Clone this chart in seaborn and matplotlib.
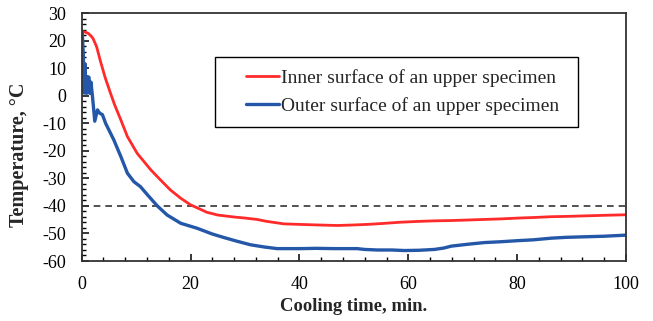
import numpy as np
import pandas as pd
import matplotlib
matplotlib.use("Agg")
import matplotlib.pyplot as plt
import seaborn as sns
from matplotlib.patches import Rectangle
from matplotlib.ticker import MultipleLocator

# ---- data ----
inner_t = [0, 0.6, 1.2, 1.7, 2.1, 2.75, 3.4, 4.3, 5.2, 6.0, 7.2, 8.4, 10.2, 12.7, 14.5,
           16.3, 18.2, 20, 21.8, 23, 25, 27.9, 30, 32.2, 34, 37.1, 40, 43.3, 47, 50,
           52.5, 55, 58.6, 62, 65, 67.9, 71, 74, 77, 80.2, 83, 86.3, 89, 92.5, 96, 100]
inner_T = [23.3, 23.2, 22.7, 21.8, 20.8, 17.8, 12.9, 6.7, 1.5, -3.0, -8.8, -14.8, -20.9,
           -26.9, -30.6, -34.2, -37.2, -39.6, -41.2, -42.3, -43.3, -44, -44.4, -44.9,
           -45.6, -46.5, -46.7, -46.9, -47.1, -46.9, -46.7, -46.4, -45.9, -45.6, -45.4,
           -45.3, -45.1, -44.9, -44.7, -44.4, -44.2, -43.9, -43.8, -43.6, -43.4, -43.2]

outer_t = [0, 0.1, 0.3, 0.45, 0.6, 0.75, 0.9, 1.1, 1.35, 1.5, 1.7, 2.0, 2.4, 2.9, 3.3,
           3.8, 4.4, 5.9, 7.2, 8.4, 9.6, 10.8, 12.1, 13.9, 15.7, 18.2, 21.2, 24, 26,
           28.5, 31, 33.5, 35.9, 40.2, 43, 46.3, 50.6, 52, 54.3, 57, 59.3, 62, 64.8,
           66.5, 67.9, 71, 74, 77, 80.2, 83, 86.3, 89, 92.5, 96, 100]
outer_T = [23.3, 23.3, 14.9, 1.0, 11.6, 4.0, 0.9, 7.0, 6.7, 0.9, 5.0, -0.6, -9.2, -5.1,
           -6.3, -6.8, -10.0, -16.0, -22.1, -28.1, -31.2, -33.0, -36.0, -40.0, -43.3,
           -46.3, -48.1, -50.2, -51.4, -52.8, -54.1, -54.9, -55.5, -55.5, -55.4, -55.5,
           -55.5, -55.8, -56.0, -56.0, -56.2, -56.1, -55.8, -55.3, -54.6, -53.9, -53.3,
           -53.0, -52.6, -52.3, -51.7, -51.4, -51.2, -51.0, -50.6]

labels = ["Inner surface of an upper specimen", "Outer surface of an upper specimen"]
threshold = -40
x_ticks = [0, 20, 40, 60, 80, 100]
y_ticks = [-60, -50, -40, -30, -20, -10, 0, 10, 20, 30]

# ---- plotting ----
sns.set_style("ticks")
plt.rcParams['font.family'] = ['Liberation Serif', 'DejaVu Serif']
plt.rcParams['axes.unicode_minus'] = False

W, H = 653, 321
L, R, T, B = 81.7, 626.0, 13.3, 261.0
fig = plt.figure(figsize=(W/100, H/100), dpi=100)
ax = fig.add_axes([L/W, 1-B/H, (R-L)/W, (B-T)/H])
aw, ah = R-L, B-T

df_in = pd.DataFrame({"t": inner_t, "T": inner_T})
df_out = pd.DataFrame({"t": outer_t, "T": outer_T})
sns.lineplot(data=df_in, x="t", y="T", ax=ax, color="#FF2A2A", lw=2.0,
             label=labels[0], estimator=None, sort=False)
sns.lineplot(data=df_out, x="t", y="T", ax=ax, color="#2457A8", lw=2.4,
             label=labels[1], estimator=None, sort=False)
ax.axhline(threshold, color="#333333", lw=1.2, ls=(0, (4, 3)), zorder=1)

ax.set_xlim(0, 100)
ax.set_ylim(-60, 30)
ax.set_xticks(x_ticks)
ax.set_yticks(y_ticks)
ax.xaxis.set_minor_locator(MultipleLocator(4))
ax.yaxis.set_minor_locator(MultipleLocator(2))
ax.tick_params(which='both', direction='in', colors='black', labelsize=13,
               top=False, right=False)
ax.tick_params(axis='x', which='major', length=5, width=1.1, pad=10.5)
ax.tick_params(axis='y', which='major', length=5, width=1.1, pad=11)
ax.tick_params(which='minor', length=3, width=1.0)
for s in ax.spines.values():
    s.set_visible(True)
    s.set_color('#333333')
    s.set_linewidth(1.3)

ax.set_xlabel("Cooling time, min.", fontsize=13.4, fontweight='bold', labelpad=4)
ax.set_ylabel("Temperature, °C", fontsize=14.5, fontweight='bold')
ax.yaxis.set_label_coords((29-L)/aw, 1-(155-T)/ah)

leg = ax.legend(loc='center left', bbox_to_anchor=((246-L)/aw, 1-(92-T)/ah),
                frameon=False, fontsize=14, handlelength=1.7, handletextpad=0.1,
                labelspacing=0.55, borderpad=0, borderaxespad=0)
ax.add_patch(Rectangle(((215-L)/aw, 1-(127-T)/ah), (578-215)/aw, (127-57)/ah,
                       transform=ax.transAxes, fill=False, edgecolor='black', lw=1.0,
                       zorder=5))

fig.savefig("out.png", dpi=100)
